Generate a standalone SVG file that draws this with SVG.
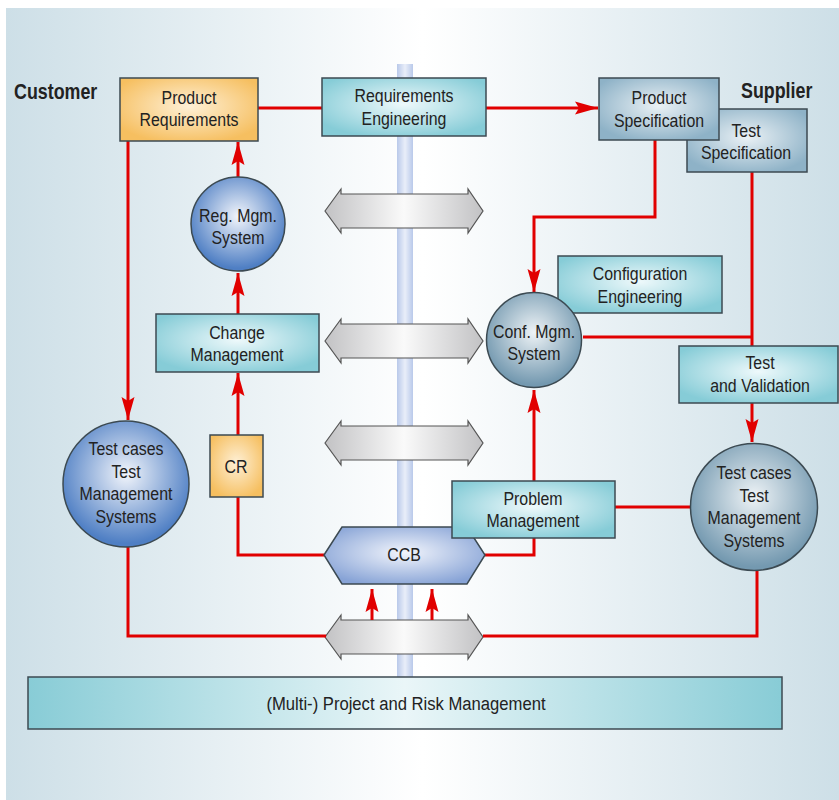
<svg xmlns="http://www.w3.org/2000/svg" width="839" height="800" viewBox="0 0 839 800">
<defs>
<linearGradient id="bg" x1="0" y1="0" x2="1" y2="0">
<stop offset="0" stop-color="#cddfe7"/><stop offset="0.5" stop-color="#ffffff"/><stop offset="1" stop-color="#cddfe7"/>
</linearGradient>
<linearGradient id="band" x1="0" y1="0" x2="1" y2="0">
<stop offset="0" stop-color="#b9c9ea"/><stop offset="0.5" stop-color="#e9eef9"/><stop offset="1" stop-color="#b9c9ea"/>
</linearGradient>
<linearGradient id="gray" x1="0" y1="0" x2="1" y2="0">
<stop offset="0" stop-color="#c2c2c4"/><stop offset="0.5" stop-color="#fafafa"/><stop offset="1" stop-color="#c2c2c4"/>
</linearGradient>
<radialGradient id="teal" cx="0.5" cy="0.45" r="0.6">
<stop offset="0" stop-color="#eef9fb"/><stop offset="1" stop-color="#86ccd7"/>
</radialGradient>
<radialGradient id="orange" cx="0.5" cy="0.45" r="0.6">
<stop offset="0" stop-color="#fef0d6"/><stop offset="1" stop-color="#f6bf60"/>
</radialGradient>
<radialGradient id="steel" cx="0.5" cy="0.45" r="0.6">
<stop offset="0" stop-color="#eaf1f5"/><stop offset="1" stop-color="#8eb2c7"/>
</radialGradient>
<radialGradient id="blue" cx="0.5" cy="0.42" r="0.55">
<stop offset="0" stop-color="#f2f5fb"/><stop offset="1" stop-color="#4f7fc4"/>
</radialGradient>
<radialGradient id="gblue" cx="0.5" cy="0.42" r="0.55">
<stop offset="0" stop-color="#eef3f6"/><stop offset="1" stop-color="#7499b0"/>
</radialGradient>
<radialGradient id="ccb" cx="0.5" cy="0.45" r="0.6">
<stop offset="0" stop-color="#f2f5fc"/><stop offset="1" stop-color="#87a3d6"/>
</radialGradient>
<linearGradient id="wide" x1="0" y1="0" x2="1" y2="0">
<stop offset="0" stop-color="#88ccd6"/><stop offset="0.5" stop-color="#eaf6f8"/><stop offset="1" stop-color="#88ccd6"/>
</linearGradient>
<marker id="ah" markerUnits="userSpaceOnUse" markerWidth="26" markerHeight="16" viewBox="-24 -8 26 16" refX="0" refY="0" orient="auto">
<path d="M0,0 L-23,-6.5 L-19,0 L-23,6.5 Z" fill="#e10000"/>
</marker>
<style>
text{font-family:"Liberation Sans",Arial,sans-serif;font-size:18.5px;fill:#222;text-anchor:middle}
.lbl{font-size:21.5px;font-weight:bold;text-anchor:start}
.box{stroke:#3c4a52;stroke-width:1.5}
.dbl{fill:url(#gray);stroke:#555;stroke-width:1.2}
.red{fill:none;stroke:#e10000;stroke-width:3}
.arr{marker-end:url(#ah)}
</style>
</defs>
<rect x="6" y="8" width="833" height="792" fill="url(#bg)"/>
<rect x="397" y="64" width="16" height="613" fill="url(#band)"/>
<g transform="translate(14,0) scale(0.83,1)"><text class="lbl" x="0" y="99">Customer</text></g>
<g transform="translate(741,0) scale(0.83,1)"><text class="lbl" x="0" y="98">Supplier</text></g>

<g id="exchange-arrows">
<path class="dbl" d="M325,211 L341,189 L341,194 L468,194 L468,189 L483,211 L468,233 L468,228 L341,228 L341,233 Z"/>
<path class="dbl" d="M325,341 L341,319 L341,324 L468,324 L468,319 L483,341 L468,363 L468,358 L341,358 L341,363 Z"/>
<path class="dbl" d="M325,443 L341,421 L341,426 L468,426 L468,421 L483,443 L468,465 L468,460 L341,460 L341,465 Z"/>
<path class="dbl" d="M325,637 L341,615 L341,620 L468,620 L468,615 L483,637 L468,659 L468,654 L341,654 L341,659 Z"/>
</g>

<g id="connectors">
<path class="red" d="M258,108 L322,108"/>
<path class="red arr" d="M486,108 L598,108"/>
<path class="red arr" d="M238,177 L238,142"/>
<path class="red arr" d="M238,314 L238,273"/>
<path class="red arr" d="M238,435 L238,373"/>
<path class="red arr" d="M128,141 L128,420"/>
<path class="red arr" d="M655,140 L655,217 L534,217 L534,292"/>
<path class="red" d="M752,172 L752,346"/>
<path class="red" d="M583,337 L752,337"/>
<path class="red arr" d="M752,403 L752,442"/>
<path class="red arr" d="M534,481 L534,390"/>
<path class="red" d="M485,555 L534,555 L534,538"/>
<path class="red" d="M615,507 L691,507"/>
<path class="red" d="M238,497 L238,555 L324,555"/>
<path class="red" d="M128,547 L128,636 L326,636"/>
<path class="red" d="M483,636 L757,636 L757,571"/>
<path class="red arr" d="M372,620 L372,589"/>
<path class="red arr" d="M432,620 L432,589"/>
</g>

<g id="product-requirements">
<rect class="box" x="120" y="78" width="138" height="63" fill="url(#orange)"/>
<g transform="translate(189,0) scale(0.86,1)"><text x="0" y="104">Product</text><text x="0" y="126">Requirements</text></g>
</g>
<g id="requirements-engineering">
<rect class="box" x="322" y="78" width="164" height="58" fill="url(#teal)"/>
<g transform="translate(404,0) scale(0.86,1)"><text x="0" y="102">Requirements</text><text x="0" y="125">Engineering</text></g>
</g>
<g id="test-specification">
<rect class="box" x="687" y="109" width="120" height="63" fill="url(#steel)"/>
<g transform="translate(746,0) scale(0.86,1)"><text x="0" y="137">Test</text><text x="0" y="159">Specification</text></g>
</g>
<g id="product-specification">
<rect class="box" x="599" y="78" width="120" height="62" fill="url(#steel)"/>
<g transform="translate(659,0) scale(0.86,1)"><text x="0" y="104">Product</text><text x="0" y="127">Specification</text></g>
</g>
<g id="reg-mgm-system">
<circle class="box" cx="238" cy="224" r="47" fill="url(#blue)"/>
<g transform="translate(238,0) scale(0.86,1)"><text x="0" y="222">Reg. Mgm.</text><text x="0" y="244">System</text></g>
</g>
<g id="configuration-engineering">
<rect class="box" x="558" y="256" width="164" height="57" fill="url(#teal)"/>
<g transform="translate(640,0) scale(0.86,1)"><text x="0" y="280">Configuration</text><text x="0" y="303">Engineering</text></g>
</g>
<g id="conf-mgm-system">
<circle class="box" cx="534" cy="340" r="47.5" fill="url(#gblue)"/>
<g transform="translate(534,0) scale(0.86,1)"><text x="0" y="338">Conf. Mgm.</text><text x="0" y="360">System</text></g>
</g>
<g id="change-management">
<rect class="box" x="156" y="314" width="163" height="58" fill="url(#teal)"/>
<g transform="translate(237,0) scale(0.86,1)"><text x="0" y="339">Change</text><text x="0" y="361">Management</text></g>
</g>
<g id="test-and-validation">
<rect class="box" x="679" y="346" width="159" height="57" fill="url(#teal)"/>
<g transform="translate(760,0) scale(0.86,1)"><text x="0" y="369">Test</text><text x="0" y="392">and Validation</text></g>
</g>
<g id="cr">
<rect class="box" x="210" y="435" width="53" height="62" fill="url(#orange)"/>
<g transform="translate(236,0) scale(0.86,1)"><text x="0" y="473">CR</text></g>
</g>
<g id="test-cases-customer">
<circle class="box" cx="126" cy="484" r="63" fill="url(#blue)"/>
<g transform="translate(126,0) scale(0.86,1)"><text x="0" y="455">Test cases</text><text x="0" y="478">Test</text><text x="0" y="500">Management</text><text x="0" y="523">Systems</text></g>
</g>
<g id="test-cases-supplier">
<circle class="box" cx="754" cy="507" r="63.5" fill="url(#gblue)"/>
<g transform="translate(754,0) scale(0.86,1)"><text x="0" y="479">Test cases</text><text x="0" y="502">Test</text><text x="0" y="524">Management</text><text x="0" y="547">Systems</text></g>
</g>
<g id="ccb">
<path class="box" d="M324,555 L342,527 L467,527 L485,555 L467,584 L342,584 Z" fill="url(#ccb)"/>
<g transform="translate(404,0) scale(0.86,1)"><text x="0" y="561">CCB</text></g>
</g>
<g id="problem-management">
<rect class="box" x="452" y="481" width="163" height="57" fill="url(#teal)"/>
<g transform="translate(533,0) scale(0.86,1)"><text x="0" y="505">Problem</text><text x="0" y="527">Management</text></g>
</g>
<g id="project-risk-management">
<rect class="box" x="28" y="677" width="754" height="52" fill="url(#wide)"/>
<g transform="translate(406,0) scale(0.9,1)"><text x="0" y="710">(Multi-) Project and Risk Management</text></g>
</g>
</svg>
